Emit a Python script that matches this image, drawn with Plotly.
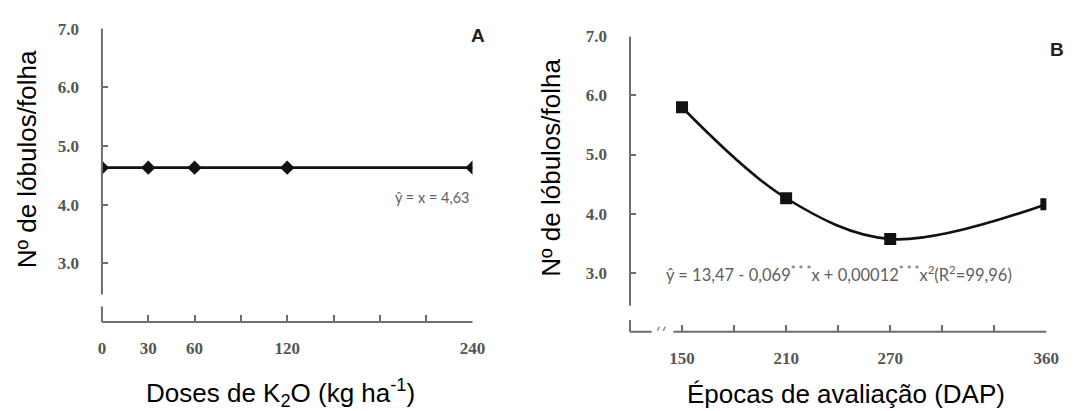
import plotly.graph_objects as go

# ---------------- data ----------------
doses = [0, 30, 60, 120, 240]
lobulos_doses = [4.63, 4.63, 4.63, 4.63, 4.63]

epocas = [150, 210, 270, 360]
lobulos_epocas = [5.80, 4.26, 3.57, 4.16]

y_ticks = [3, 4, 5, 6, 7]
y_tick_labels = ["3.0", "4.0", "5.0", "6.0", "7.0"]

a_x_ticks = [0, 30, 60, 90, 120, 150, 180, 210, 240]
a_x_labels = ["0", "30", "60", "", "120", "", "", "", "240"]

b_x_ticks = [150, 180, 210, 240, 270, 300, 330, 360]
b_x_labels = ["150", "", "210", "", "270", "", "", "360"]

W, H = 1081, 411
AX_COLOR = "#6e6e6e"
TICK_FONT = dict(family="Liberation Serif", size=17, color="#555555", weight="bold")
LINE_COLOR = "#111111"


def px(x):
    return x / W


def py(y):
    return 1 - y / H


fig = go.Figure()

fig.add_trace(go.Scatter(
    x=doses, y=lobulos_doses, mode="lines+markers",
    line=dict(color=LINE_COLOR, width=2.8),
    marker=dict(symbol="diamond", size=11, color=LINE_COLOR),
    xaxis="x", yaxis="y", showlegend=False, hoverinfo="skip"))

fig.add_trace(go.Scatter(
    x=epocas, y=lobulos_epocas, mode="lines+markers",
    line=dict(color=LINE_COLOR, width=2.6, shape="spline", smoothing=1.0),
    marker=dict(symbol="square", size=12, color=LINE_COLOR),
    xaxis="x2", yaxis="y2", showlegend=False, hoverinfo="skip"))

common_x = dict(showline=False, showgrid=False, zeroline=False, ticks="inside",
                ticklen=7, tickwidth=1.8, tickcolor=AX_COLOR, tickfont=TICK_FONT,
                ticklabelstandoff=14)
common_y = dict(showline=False, showgrid=False, zeroline=False, ticks="inside",
                ticklen=6, tickwidth=1.8, tickcolor=AX_COLOR, tickfont=TICK_FONT,
                range=[2, 7], tickvals=y_ticks, ticktext=y_tick_labels,
                ticklabelstandoff=22)

fig.update_layout(
    width=W, height=H,
    margin=dict(l=0, r=0, t=0, b=0),
    paper_bgcolor="white", plot_bgcolor="white",
    xaxis=dict(domain=[px(99.5), px(476)], range=[0, 240], tickvals=a_x_ticks,
               ticktext=a_x_labels, anchor="y", **common_x),
    yaxis=dict(domain=[py(320), py(20)], anchor="x", **common_y),
    xaxis2=dict(domain=[px(636), px(1059)], range=[120, 360], tickvals=b_x_ticks,
                ticktext=b_x_labels, anchor="y2", **common_x),
    yaxis2=dict(domain=[py(330), py(28)], anchor="x2", **common_y),
)

ln = dict(color=AX_COLOR, width=2)
brk = dict(color="#888888", width=1.3)
shapes = [
    # panel A axes (with break on y)
    dict(type="line", xref="x domain", yref="y domain", x0=0, x1=0, y0=0.094, y1=1, line=ln),
    dict(type="line", xref="x domain", yref="y domain", x0=0, x1=0, y0=0, y1=0.053, line=ln),
    dict(type="line", xref="x domain", yref="y domain", x0=0, x1=1, y0=0, y1=0, line=ln),
    # panel B axes (breaks on y and x)
    dict(type="line", xref="x2 domain", yref="y2 domain", x0=0, x1=0, y0=0.088, y1=1, line=ln),
    dict(type="line", xref="x2 domain", yref="y2 domain", x0=0, x1=0, y0=0, y1=0.04, line=ln),
    dict(type="line", xref="x2 domain", yref="y2 domain", x0=0, x1=0.052, y0=0, y1=0, line=ln),
    dict(type="line", xref="x2 domain", yref="y2 domain", x0=0.104, x1=1, y0=0, y1=0, line=ln),
    dict(type="line", xref="x2 domain", yref="y2 domain", x0=0.066, x1=0.071, y0=0.003, y1=0.018, line=brk),
    dict(type="line", xref="x2 domain", yref="y2 domain", x0=0.080, x1=0.085, y0=0.003, y1=0.018, line=brk),
]
fig.update_layout(shapes=shapes)

title_font = dict(family="Liberation Sans", size=26, color="black")

annotations = [
    dict(text="Doses de K<sub>2</sub>O (kg ha<sup>-1</sup>)", x=px(281), y=py(393),
         xref="paper", yref="paper", showarrow=False, font=title_font,
         xanchor="center", yanchor="middle"),
    dict(text="Épocas de avaliação (DAP)", x=px(855), y=py(394),
         xref="paper", yref="paper", showarrow=False, font=title_font,
         xanchor="center", yanchor="middle"),
    dict(text="Nº de lóbulos/folha", x=px(23), y=py(154), textangle=-90,
         xref="paper", yref="paper", showarrow=False, font=title_font,
         xanchor="center", yanchor="middle"),
    dict(text="Nº de lóbulos/folha", x=px(556), y=py(162), textangle=-90,
         xref="paper", yref="paper", showarrow=False, font=title_font,
         xanchor="center", yanchor="middle"),
    dict(text="ŷ = x = 4,63", x=px(435), y=py(193),
         xref="paper", yref="paper", showarrow=False,
         font=dict(family="Lato", size=14.5, color="#606060"),
         xanchor="center", yanchor="middle"),
    dict(text="ŷ = 13,47 - 0,069<sup>* * *</sup>x + 0,00012<sup>* * *</sup>x<sup>2</sup>(R<sup>2</sup>=99,96)",
         x=px(848), y=py(271),
         xref="paper", yref="paper", showarrow=False,
         font=dict(family="Lato", size=16.5, color="#606060"),
         xanchor="center", yanchor="middle"),
    dict(text="<b>A</b>", x=px(482), y=py(27), xref="paper", yref="paper",
         showarrow=False, font=dict(family="Liberation Sans", size=19, color="#222222"),
         xanchor="center", yanchor="middle"),
    dict(text="<b>B</b>", x=px(1070), y=py(41), xref="paper", yref="paper",
         showarrow=False, font=dict(family="Liberation Sans", size=19, color="#222222"),
         xanchor="center", yanchor="middle"),
]
fig.update_layout(annotations=annotations)

post = "document.body.style.margin='0';document.body.style.overflow='hidden';"
fig.write_html("out.html", post_script=post, config={"displayModeBar": False})
